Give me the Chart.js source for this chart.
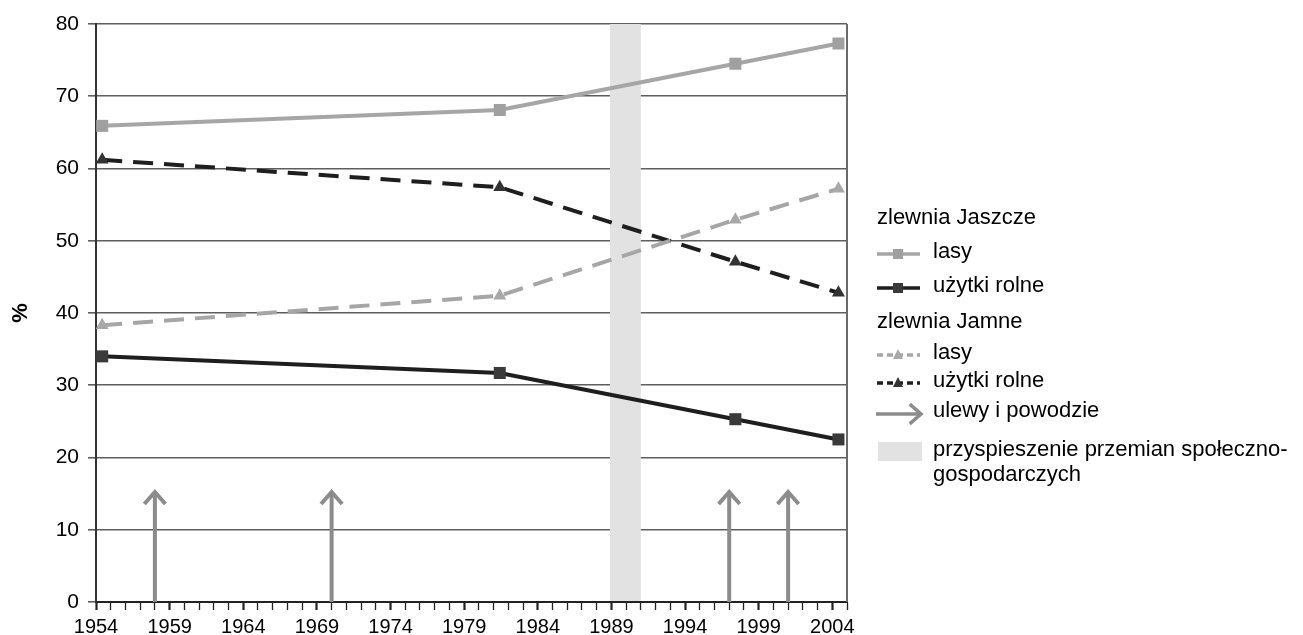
<!DOCTYPE html>
<html>
<head>
<meta charset="utf-8">
<script src="https://cdn.jsdelivr.net/npm/chart.js@4.4.1/dist/chart.umd.min.js"></script>
<style>
  body { margin: 0; background: #fff; }
  #wrap { width: 1303px; height: 635px; position: relative; }
</style>
</head>
<body>
<div id="wrap"><canvas id="chart"></canvas></div>
<script>
// data
const years = [1954, 1981, 1997, 2004];
const jaszczeLasy = [65.9, 68.1, 74.5, 77.3];
const jaszczeRolne = [34.0, 31.7, 25.3, 22.5];
const jamneLasy = [38.3, 42.4, 52.9, 57.2];
const jamneRolne = [61.2, 57.4, 47.1, 42.8];
const floodYears = [1958, 1970, 1997, 2001];
const floodLevel = 15.5;
const changePeriod = [1988.9, 1991];
const xTickLabels = [1954, 1959, 1964, 1969, 1974, 1979, 1984, 1989, 1994, 1999, 2004];

const LIGHT = '#a6a6a6';
const DARK = '#1e1e1e';
const FONT = '"Liberation Sans", Arial, sans-serif';

// values are mid-year observations
const pts = (vals) => vals.map((v, i) => ({ x: years[i] + 0.42, y: v }));

const series = (label, vals, color, marker, dashed, pointColor) => ({
    label: label,
    data: pts(vals),
    borderColor: color,
    backgroundColor: pointColor,
    borderWidth: 4,
    borderDash: dashed ? [20, 11] : [],
    pointStyle: marker,
    pointRadius: marker === 'rect' ? 8.5 : 7.5,
    pointBorderWidth: 0,
    pointBackgroundColor: pointColor,
    tension: 0
});

function drawArrow(ctx, x0, y0, x1, y1, head) {
    ctx.beginPath();
    ctx.moveTo(x0, y0);
    ctx.lineTo(x1, y1);
    ctx.stroke();
    const ang = Math.atan2(y1 - y0, x1 - x0);
    ctx.beginPath();
    ctx.moveTo(x1 - head * Math.cos(ang - 0.72), y1 - head * Math.sin(ang - 0.72));
    ctx.lineTo(x1, y1);
    ctx.lineTo(x1 - head * Math.cos(ang + 0.72), y1 - head * Math.sin(ang + 0.72));
    ctx.stroke();
}

function marker(ctx, style, cx, cy, s, color) {
    ctx.fillStyle = color;
    ctx.beginPath();
    if (style === 'rect') {
        ctx.rect(cx - s / 2, cy - s / 2, s, s);
    } else {
        ctx.moveTo(cx, cy - s * 0.6);
        ctx.lineTo(cx + s / 2, cy + s * 0.4);
        ctx.lineTo(cx - s / 2, cy + s * 0.4);
        ctx.closePath();
    }
    ctx.fill();
}

const extras = {
    id: 'extras',
    beforeDatasetsDraw(chart) {
        const { ctx, chartArea: a, scales: { x, y } } = chart;
        ctx.save();
        // period of faster socio-economic change
        const b0 = x.getPixelForValue(changePeriod[0]);
        const b1 = x.getPixelForValue(changePeriod[1]);
        ctx.fillStyle = '#e2e2e2';
        ctx.fillRect(b0, a.top, b1 - b0, a.bottom - a.top - 1);
        // right frame
        ctx.strokeStyle = '#6a6a6a';
        ctx.lineWidth = 2;
        ctx.beginPath();
        ctx.moveTo(a.right, a.top);
        ctx.lineTo(a.right, a.bottom);
        ctx.stroke();
        // floods
        ctx.strokeStyle = '#8c8c8c';
        ctx.lineWidth = 4;
        ctx.lineCap = 'butt';
        floodYears.forEach(yr => {
            const px = x.getPixelForValue(yr);
            drawArrow(ctx, px, y.getPixelForValue(0), px, y.getPixelForValue(floodLevel) + 2, 16);
        });
        ctx.restore();
    },
    afterDraw(chart) {
        const ctx = chart.ctx;
        ctx.save();
        ctx.font = '22px ' + FONT;
        ctx.fillStyle = '#000';
        ctx.textBaseline = 'middle';
        ctx.textAlign = 'left';
        const lx = 877, tx = 933;

        ctx.fillText('zlewnia Jaszcze', lx, 218);
        ctx.fillText('zlewnia Jamne', lx, 322);

        const entries = [
            { text: 'lasy', y: 252, color: LIGHT, dash: [], m: 'rect', mc: '#a0a0a0' },
            { text: 'użytki rolne', y: 286, color: DARK, dash: [], m: 'rect', mc: '#3a3a3a' },
            { text: 'lasy', y: 353, color: LIGHT, dash: [6, 4], m: 'tri', mc: '#a8a8a8' },
            { text: 'użytki rolne', y: 381, color: DARK, dash: [6, 4], m: 'tri', mc: '#333' }
        ];
        entries.forEach(e => {
            const ly = e.y + 2;
            ctx.strokeStyle = e.color;
            ctx.lineWidth = 3.5;
            ctx.setLineDash(e.dash);
            ctx.beginPath();
            ctx.moveTo(877, ly);
            ctx.lineTo(920, ly);
            ctx.stroke();
            ctx.setLineDash([]);
            marker(ctx, e.m, 898, ly, 10, e.mc);
            ctx.fillStyle = '#000';
            ctx.fillText(e.text, tx, e.y);
        });

        ctx.strokeStyle = '#8c8c8c';
        ctx.lineWidth = 3.5;
        drawArrow(ctx, 876, 414, 921, 414, 15);
        ctx.fillStyle = '#000';
        ctx.fillText('ulewy i powodzie', tx, 411);

        ctx.fillStyle = '#e2e2e2';
        ctx.fillRect(878, 442, 44, 19);
        ctx.fillStyle = '#000';
        ctx.fillText('przyspieszenie przemian społeczno-', tx, 450);
        ctx.fillText('gospodarczych', tx, 475);
        ctx.restore();
    }
};

const chart = new Chart(document.getElementById('chart'), {
    type: 'line',
    data: {
        datasets: [
            series('zlewnia Jaszcze lasy', jaszczeLasy, LIGHT, 'rect', false, '#a0a0a0'),
            series('zlewnia Jaszcze użytki rolne', jaszczeRolne, DARK, 'rect', false, '#3a3a3a'),
            series('zlewnia Jamne lasy', jamneLasy, LIGHT, 'triangle', true, '#a8a8a8'),
            series('zlewnia Jamne użytki rolne', jamneRolne, DARK, 'triangle', true, '#333')
        ]
    },
    options: {
        responsive: true,
        maintainAspectRatio: false,
        animation: false,
        layout: { padding: { left: 0, top: 24, right: 456, bottom: 0 } },
        plugins: {
            legend: { display: false },
            tooltip: { enabled: false }
        },
        scales: {
            x: {
                type: 'linear',
                min: 1954,
                max: 2005,
                afterFit: (s) => { s.height = 33; },
                ticks: {
                    stepSize: 1,
                    autoSkip: false,
                    maxRotation: 0,
                    padding: 5,
                    color: '#000',
                    font: { family: FONT, size: 20 },
                    callback: (v) => xTickLabels.includes(v) ? String(v) : ''
                },
                grid: {
                    drawOnChartArea: false,
                    tickLength: 8,
                    tickColor: '#222',
                    tickWidth: (c) => xTickLabels.includes(c.tick && c.tick.value) ? 2.2 : 1.3
                },
                border: { color: '#222', width: 2 }
            },
            y: {
                min: 0,
                max: 80,
                afterFit: (s) => { s.width = 96; },
                ticks: {
                    stepSize: 10,
                    padding: 9,
                    color: '#000',
                    font: { family: FONT, size: 21 }
                },
                grid: {
                    color: '#5e5e5e',
                    lineWidth: 1.6,
                    tickLength: 8,
                    tickColor: '#5e5e5e'
                },
                border: { color: '#333', width: 2 },
                title: {
                    display: true,
                    text: '%',
                    color: '#000',
                    font: { family: FONT, size: 22, weight: 'bold' },
                    padding: { top: 8, bottom: 0 }
                }
            }
        }
    },
    plugins: [extras]
});
</script>
</body>
</html>
